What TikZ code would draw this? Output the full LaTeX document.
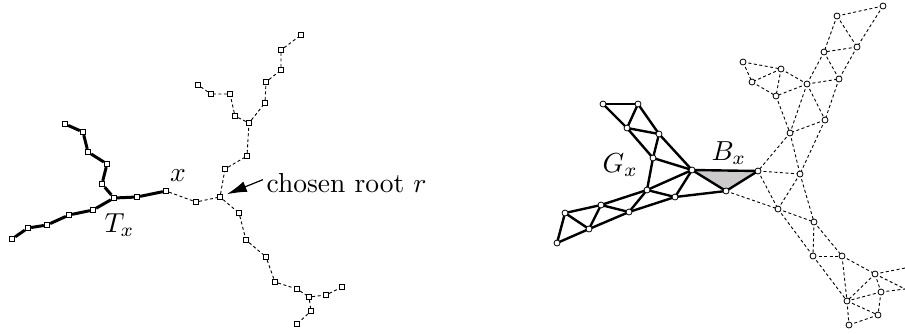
\documentclass[tikz,border=0pt]{standalone}
\usetikzlibrary{arrows.meta}
\definecolor{bxfill}{RGB}{205,202,203}
\begin{document}
\begin{tikzpicture}[x=1pt,y=-1pt,
  sq/.style={draw,fill=white,rectangle,minimum size=5.5pt,inner sep=0pt,line width=0.8pt},
  vc/.style={draw,fill=white,circle,minimum size=6pt,inner sep=0pt,line width=0.8pt},
  treeedge/.style={line width=3pt,line join=round},
  dl/.style={dash pattern=on 3pt off 2.5pt,line width=0.9pt},
  gs/.style={line width=2.4pt,line join=round},
  lbl/.style={scale=2.75,inner sep=0pt},
  arr/.style={-{Latex[length=8pt,width=4.5pt]},line width=0.5pt,scale=2.75}
]
\useasboundingbox (0,0) rectangle (905,333);
% ---------------- left tree ----------------
\foreach \n/\p in {L1/{65,124},L2/{83,132},L3/{88,152},L4/{107,164},L5/{102,184},Lb/{114,198},L6/{137,197},X/{166,191},
  L7/{93,210},L8/{69,215},L9/{47,225},L10/{28,228},L11/{12,239},
  M1/{196,202},R/{220,197},U1/{225,169},U2/{247,156},Ub/{249,123},U3/{235,116},U4/{230,94},U5/{211,94},U6/{198,85},
  U7/{265,103},U8/{266,82},U9/{281,70},U10/{281,50},U11/{301,35},
  D1/{239,213},D2/{246,240},D3/{266,257},D4/{275,282},D5/{297,289},Db/{309,297},D6/{326,295},D7/{342,287},D8/{311,311},D9/{297,324}}
  {\node[sq] (\n) at (\p) {};}
\draw[treeedge] (L1) -- (L2) -- (L3) -- (L4) -- (L5) -- (Lb) -- (L6) -- (X);
\draw[treeedge] (Lb) -- (L7) -- (L8) -- (L9) -- (L10) -- (L11);
\draw[dl] (X) -- (M1) -- (R) -- (U1) -- (U2) -- (Ub) -- (U3) -- (U4) -- (U5) -- (U6);
\draw[dl] (Ub) -- (U7) -- (U8) -- (U9) -- (U10) -- (U11);
\draw[dl] (R) -- (D1) -- (D2) -- (D3) -- (D4) -- (D5) -- (Db) -- (D6) -- (D7);
\draw[dl] (Db) -- (D8) -- (D9);
\node[lbl] (xl) at (178,176) {$x$};
\node[lbl,anchor=base west] (tx) at (104,232) {$T_x$};
\node[lbl,anchor=base west] (chosen) at (266,192) {chosen root $r$};
\draw[-{Latex[length=20pt,width=11pt]},line width=1.2pt,shorten >=4pt] ([xshift=-3pt,yshift=3pt]chosen.west) -- (R);
% ---------------- right graph ----------------
\foreach \n/\p in {a1/{603,104},a2/{638,104},a3/{627,128},a4/{659,134},a5/{653,158},h/{692,170},br/{758,171},bb/{726,191},
  a6/{675,197},a7/{647,190},a8/{629,212},a9/{601,205},a10/{565,213},a11/{589,229},a12/{557,243},
  d1/{883,6},d2/{837,16},d3/{857,47},d4/{824,52},d5/{743,62},d6/{781,69},d7/{752,82},d8/{807,84},d9/{839,79},d10/{776,96},
  d11/{825,120},d12/{790,133},d13/{800,174},d14/{778,209},d15/{814,222},d16/{813,256},d17/{842,256},d18/{875,274},
  d19/{881,292},d20/{847,301},d21/{878,315},d22/{849,325}}
  {\coordinate (\n) at (\p);}
\coordinate (e1) at (905,268);
\coordinate (e2) at (905,289);
\fill[bxfill] (h) -- (br) -- (bb) -- cycle;
\foreach \u/\v in {d1/d2,d1/d3,d2/d3,d2/d4,d3/d4,d3/d9,d4/d9,d4/d8,d8/d9,d6/d8,d8/d10,d5/d6,d5/d7,d6/d7,d7/d10,d6/d10,
  d8/d11,d9/d11,d8/d12,d10/d12,d11/d12,d12/br,d12/d13,d11/d13,br/d13,bb/d14,br/d14,d13/d14,d13/d15,d14/d15,d14/d16,
  d15/d16,d15/d17,d16/d17,d16/d20,d17/d20,d17/d18,d18/d20,d18/d19,d19/d20,d20/d21,d19/d21,d20/d22,d21/d22,d18/e1,d18/e2,d19/e2}
  {\draw[dl] (\u) -- (\v);}
\foreach \u/\v in {a1/a2,a1/a3,a2/a3,a2/a4,a3/a4,a3/a5,a4/a5,a4/h,a5/h,a5/a7,a7/h,a6/h,a6/bb,a7/a6,a8/a6,a8/a7,a9/a7,a9/a8,
  a11/a8,a11/a9,a10/a9,a10/a11,a12/a10,a12/a11,h/br,h/bb,br/bb}
  {\draw[gs] (\u) -- (\v);}
\foreach \n in {a1,a2,a3,a4,a5,h,br,bb,a6,a7,a8,a9,a10,a11,a12,d1,d2,d3,d4,d5,d6,d7,d8,d9,d10,d11,d12,d13,d14,d15,d16,d17,d18,d19,d20,d21,d22}
  {\node[vc] (v\n) at (\n) {};}
\node[lbl,anchor=base west] (gx) at (602,172) {$G_x$};
\node[lbl,anchor=base west] (bx) at (711,160) {$B_x$};
\end{tikzpicture}
\end{document}
